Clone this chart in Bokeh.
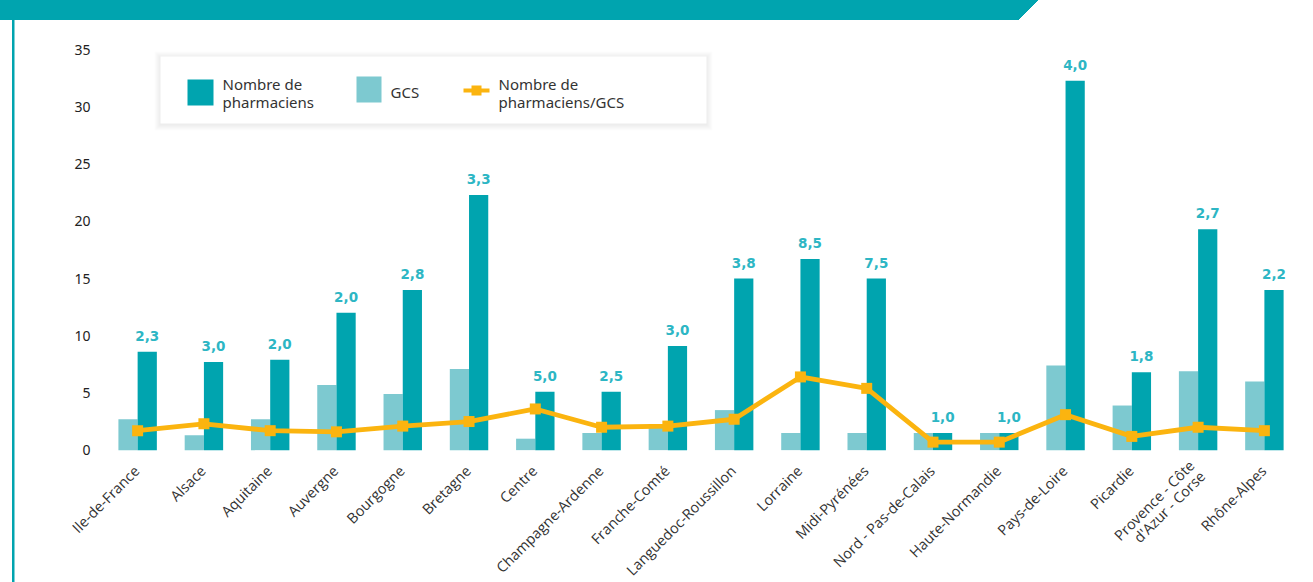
import math
from bokeh.plotting import figure
from bokeh.models import (ColumnDataSource, Range1d, FixedTicker, BoxAnnotation, Label)
from bokeh.transform import dodge
from bokeh.core.properties import value
from bokeh.embed import file_html
from bokeh.resources import INLINE

# ---------------- data ----------------
regions = ["Ile-de-France", "Alsace", "Aquitaine", "Auvergne", "Bourgogne", "Bretagne",
           "Centre", "Champagne-Ardenne", "Franche-Comté", "Languedoc-Roussillon",
           "Lorraine", "Midi-Pyrénées", "Nord - Pas-de-Calais", "Haute-Normandie",
           "Pays-de-Loire", "Picardie", "Provence - Côte\nd'Azur - Corse", "Rhône-Alpes"]
pharmaciens = [8.6, 7.7, 7.9, 12.0, 14.0, 22.3, 5.1, 5.1, 9.1, 15.0,
               16.7, 15.0, 1.5, 1.5, 32.3, 6.8, 19.3, 14.0]
gcs = [2.7, 1.3, 2.7, 5.7, 4.9, 7.1, 1.0, 1.5, 2.1, 3.5,
       1.5, 1.5, 1.5, 1.5, 7.4, 3.9, 6.9, 6.0]
ratio = [1.7, 2.3, 1.7, 1.6, 2.1, 2.5, 3.6, 2.0, 2.1, 2.7,
         6.4, 5.4, 0.7, 0.7, 3.1, 1.2, 2.0, 1.7]
ratio_labels = ["2,3", "3,0", "2,0", "2,0", "2,8", "3,3", "5,0", "2,5", "3,0", "3,8",
                "8,5", "7,5", "1,0", "1,0", "4,0", "1,8", "2,7", "2,2"]
y_ticks = [0, 5, 10, 15, 20, 25, 30, 35]

DARK = "#00A4AF"
LIGHT = "#7DC9D0"
YELLOW = "#FBB40F"
LABEL_TEAL = "#2DB6C4"

# category slot of each region on the x scale
slot = list(range(len(regions)))
src = ColumnDataSource(dict(slot=slot, region=regions, pharm=pharmaciens, gcs=gcs,
                            ratio=ratio, lab=ratio_labels))

# page decorations (banner with slanted end + thin left rule) drawn as CSS background
css = {
    "background-color": "white",
    "background-image": (f"linear-gradient({DARK},{DARK}), "
                         f"linear-gradient(to bottom right, {DARK} 50%, transparent 50%), "
                         f"linear-gradient({DARK},{DARK})"),
    "background-size": "1019px 20px, 19px 20px, 2.5px 562px",
    "background-position": "0px 0px, 1019px 0px, 12px 20px",
    "background-repeat": "no-repeat",
}

p = figure(width=1313, height=582,
           x_range=Range1d(-2.069, 17.741), y_range=Range1d(-11.573, 39.31),
           x_axis_location=None, output_backend="svg", toolbar_location=None,
           min_border_left=0, min_border_right=0, min_border_top=0,
           min_border_bottom=0, styles=css)
p.outline_line_color = None
p.xgrid.grid_line_color = None
p.ygrid.grid_line_color = None
p.background_fill_color = None
p.border_fill_color = None

bw = 0.29
p.vbar(x=dodge("slot", -bw / 2), top="gcs", width=bw,
       source=src, fill_color=LIGHT, line_color=None)
p.vbar(x=dodge("slot", bw / 2), top="pharm", width=bw,
       source=src, fill_color=DARK, line_color=None)
p.line(x="slot", y="ratio", source=src, line_color=YELLOW, line_width=4.8)
p.scatter(x="slot", y="ratio", source=src, marker="square", size=11,
          fill_color=YELLOW, line_color=None)
p.text(x=dodge("slot", bw / 2), y="pharm", text="lab", source=src,
       text_align="center", text_baseline="alphabetic", y_offset=-16,
       text_font=value("DejaVu Sans"), text_font_style="bold",
       text_font_size="13.5px", text_color=LABEL_TEAL)

# category labels (rotated), placed by the x scale at y = 0
p.text(x="slot", y=0, text="region", source=src, angle=math.pi / 4,
       text_align="right", text_baseline="middle", x_offset=-1, y_offset=18,
       text_font=value("Open Sans"), text_font_size="14.5px", text_color="#333333",
       text_line_height=0.8)

# y axis, anchored at the left edge of the first category slot
p.yaxis.fixed_location = -0.5
p.yaxis.ticker = FixedTicker(ticks=y_ticks)
p.yaxis.axis_line_color = None
p.yaxis.major_tick_line_color = None
p.yaxis.minor_tick_line_color = None
p.yaxis.major_tick_out = 0
p.yaxis.major_tick_in = 0
p.yaxis.major_label_standoff = 14
p.yaxis.major_label_text_font = "Noto Sans"
p.yaxis.major_label_text_font_size = "14px"
p.yaxis.major_label_text_color = "#222222"


# ---------------- legend (canvas coordinates) ----------------
def cbox(l, r, t, b, color, alpha=1.0):
    p.add_layout(BoxAnnotation(left=l, right=r, top=t, bottom=b,
                               left_units="canvas", right_units="canvas",
                               top_units="canvas", bottom_units="canvas",
                               fill_color=color, fill_alpha=alpha, line_color=None))


def clabel(x, y, txt):
    p.add_layout(Label(x=x, y=y, x_units="canvas", y_units="canvas", text=txt,
                       text_font="Noto Sans", text_font_size="15px",
                       text_color="#333333", text_baseline="middle"))


bl, br, bt, bb = 160, 706, 56, 123
for k in range(6, 0, -1):
    cbox(bl - k, br + k, bt - k + 1, bb + k + 1, "#000000", 0.012)
cbox(bl, br, bt, bb, "white")

cbox(187, 213, 79, 105, DARK)
clabel(222, 83, "Nombre de")
clabel(222, 101, "pharmaciens")
cbox(356, 381, 76, 102, LIGHT)
clabel(390, 91, "GCS")
cbox(463, 489, 88, 92, YELLOW)
cbox(471, 481, 85, 95, YELLOW)
clabel(498, 83, "Nombre de")
clabel(498, 101, "pharmaciens/GCS")

open("out.html", "w").write(file_html(p, INLINE))
